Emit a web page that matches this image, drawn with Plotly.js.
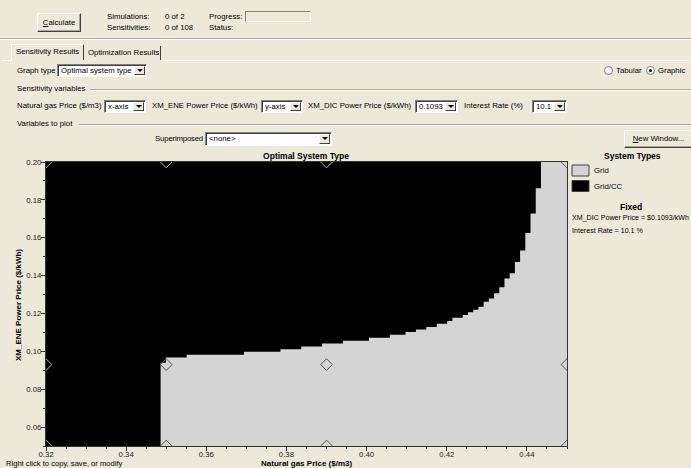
<!DOCTYPE html>
<html>
<head>
<meta charset="utf-8">
<script src="https://cdn.plot.ly/plotly-3.0.1.min.js"></script>
<style>
html,body{margin:0;padding:0;}
body{width:691px;height:468px;overflow:hidden;background:#ece9d8;position:relative;font-family:'Liberation Sans',Arial,sans-serif;font-size:7.8px;color:#000;}
#plot{position:absolute;left:0;top:0;width:691px;height:468px;}
.t{position:absolute;white-space:nowrap;line-height:10px;z-index:5;}
.btn{position:absolute;z-index:5;background:#ece9d8;box-sizing:border-box;border:1px solid;border-color:#fff #404040 #404040 #fff;box-shadow:inset -1px -1px 0 #aca899;text-align:center;white-space:nowrap;}
.dd{position:absolute;z-index:5;height:13px;background:#fff;box-sizing:border-box;border:1px solid;border-color:#808080 #fff #fff #808080;box-shadow:inset 1px 1px 0 #404040;}
.dd span{position:absolute;left:3px;top:1px;line-height:10px;white-space:nowrap;}
.dd .ab{position:absolute;right:1px;top:1px;width:11px;height:9px;background:#ece9d8;box-sizing:border-box;border:1px solid;border-color:#fff #404040 #404040 #fff;}
.dd .ab:after{content:"";position:absolute;left:2px;top:2px;border-left:3px solid transparent;border-right:3px solid transparent;border-top:3px solid #000;}
.hl{position:absolute;z-index:5;height:1px;background:#aca899;border-bottom:1px solid #fff;}
.rad{position:absolute;z-index:5;width:9px;height:9px;border-radius:50%;background:#fff;box-sizing:border-box;border:1px solid #808080;}
</style>
</head>
<body>
<div id="plot"></div>

<!-- top toolbar -->
<div class="btn" style="left:37px;top:13px;width:44px;height:19px;line-height:17px;"><u>C</u>alculate</div>
<div class="t" style="left:107px;top:12px;">Simulations:</div>
<div class="t" style="left:165px;top:12px;">0 of 2</div>
<div class="t" style="left:107px;top:23px;">Sensitivities:</div>
<div class="t" style="left:165px;top:23px;">0 of 108</div>
<div class="t" style="left:209px;top:12px;">Progress:</div>
<div style="position:absolute;z-index:5;left:245px;top:11px;width:66px;height:11px;box-sizing:border-box;border:1px solid;border-color:#808080 #fff #fff #808080;"></div>
<div class="t" style="left:209px;top:23px;">Status:</div>
<div style="position:absolute;z-index:5;left:0;top:38px;width:691px;height:1px;background:#aca899;"></div>
<div style="position:absolute;z-index:5;left:0;top:39px;width:691px;height:1px;background:#fff;"></div>

<!-- tabs -->
<div style="position:absolute;z-index:5;left:11px;top:44px;width:73px;height:16px;box-sizing:border-box;border:1px solid;border-bottom:none;border-color:#fff #404040 #fff #fff;"></div>
<div class="t" style="left:16px;top:47px;">Sensitivity Results</div>
<div style="position:absolute;z-index:5;left:84px;top:46px;width:77px;height:14px;box-sizing:border-box;border-right:1px solid #404040;"></div>
<div class="t" style="left:88px;top:48px;">Optimization Results</div>
<div style="position:absolute;z-index:5;left:161px;top:60px;width:530px;height:1px;background:#fff;"></div>
<div style="position:absolute;z-index:5;left:3px;top:60px;width:8px;height:1px;background:#fff;"></div>

<!-- graph type -->
<div class="t" style="left:17px;top:66px;">Graph type</div>
<div class="dd" style="left:57px;top:64px;width:90px;"><span>Optimal system type</span><div class="ab"></div></div>
<div class="rad" style="left:604px;top:66px;"></div>
<div class="t" style="left:616px;top:66px;">Tabular</div>
<div class="rad" style="left:646px;top:66px;"><div style="position:absolute;left:2px;top:2px;width:3px;height:3px;border-radius:50%;background:#000;"></div></div>
<div class="t" style="left:658px;top:66px;">Graphic</div>

<!-- sensitivity variables -->
<div class="t" style="left:17px;top:84px;">Sensitivity variables</div>
<div class="hl" style="left:90px;top:89px;width:601px;"></div>
<div class="t" style="left:17px;top:101px;">Natural gas Price ($/m3)</div>
<div class="dd" style="left:104px;top:100px;width:42px;"><span>x-axis</span><div class="ab"></div></div>
<div class="t" style="left:152px;top:101px;">XM_ENE Power Price ($/kWh)</div>
<div class="dd" style="left:261px;top:100px;width:42px;"><span>y-axis</span><div class="ab"></div></div>
<div class="t" style="left:308px;top:101px;">XM_DIC Power Price ($/kWh)</div>
<div class="dd" style="left:415px;top:100px;width:43px;"><span>0.1093</span><div class="ab"></div></div>
<div class="t" style="left:464px;top:101px;">Interest Rate (%)</div>
<div class="dd" style="left:532px;top:100px;width:35px;"><span>10.1</span><div class="ab"></div></div>

<!-- variables to plot -->
<div class="t" style="left:17px;top:119px;">Variables to plot</div>
<div class="hl" style="left:79px;top:124px;width:612px;"></div>
<div class="t" style="right:488px;top:134px;text-align:right;letter-spacing:-0.2px;">Superimposed</div>
<div class="dd" style="left:205px;top:132px;width:127px;height:14px;"><span>&lt;none&gt;</span><div class="ab" style="height:10px;"></div></div>
<div class="btn" style="left:624px;top:130px;width:69px;height:18px;line-height:16px;"><u>N</u>ew Window...</div>

<script>
// Sensitivity axes
var xTickVals = [0.32, 0.34, 0.36, 0.38, 0.40, 0.42, 0.44];
var xTickText = ['0.32', '0.34', '0.36', '0.38', '0.40', '0.42', '0.44'];
var yTickVals = [0.06, 0.08, 0.10, 0.12, 0.14, 0.16, 0.18, 0.20];
var yTickText = ['0.06', '0.08', '0.10', '0.12', '0.14', '0.16', '0.18', '0.20'];

// Boundary of the "Grid" region (natural gas price -> XM_ENE price above which Grid/CC is optimal)
var boundaryX = [0.3486, 0.3499, 0.3551, 0.3694, 0.3785, 0.3837, 0.3889, 0.3941, 0.4006, 0.4058,
                 0.4097, 0.4123, 0.4149, 0.4175, 0.4201, 0.4214, 0.4240, 0.4253, 0.4266, 0.4279,
                 0.4292, 0.4305, 0.4318, 0.4331, 0.4344, 0.4357, 0.4370, 0.4383, 0.4396, 0.4409,
                 0.4422, 0.4435, 0.45];
var boundaryY = [0.0940, 0.0967, 0.0982, 0.0998, 0.1011, 0.1025, 0.1041, 0.1056, 0.1072, 0.1087,
                 0.1102, 0.1115, 0.1129, 0.1146, 0.1160, 0.1178, 0.1192, 0.1206, 0.1220, 0.1236,
                 0.1262, 0.1279, 0.1307, 0.1339, 0.1385, 0.1412, 0.1472, 0.1532, 0.1625, 0.1728,
                 0.1862, 0.20, 0.20];

// Sensitivity cases (diamonds) and the optimal type at each
var caseX = [0.32, 0.35, 0.39, 0.45, 0.32, 0.35, 0.39, 0.45, 0.32, 0.35, 0.39, 0.45];
var caseY = [0.20, 0.20, 0.20, 0.20, 0.093, 0.093, 0.093, 0.093, 0.05, 0.05, 0.05, 0.05];
var caseType = ['Grid/CC', 'Grid/CC', 'Grid/CC', 'Grid', 'Grid/CC', 'Grid', 'Grid', 'Grid', 'Grid/CC', 'Grid', 'Grid', 'Grid'];

var systemTypes = ['Grid', 'Grid/CC'];
var systemColors = ['#d4d4d4', '#000000'];
var diamondColors = ['#555555', '#b0b0b0'];

var fixedLines = ['XM_DIC Power Price = $0.1093/kWh', 'Interest Rate = 10.1 %'];

var PL = 46, PR = 567, PT = 162, PB = 446;
function px(x){ return (x - PL) / (PR - PL); }
function py(y){ return (PB - y) / (PB - PT); }

var traces = [{
  type: 'scatter', mode: 'lines', x: boundaryX, y: boundaryY,
  line: {shape: 'hv', width: 0, color: systemColors[0]},
  fill: 'tozeroy', fillcolor: systemColors[0], hoverinfo: 'skip'
}];
systemTypes.forEach(function(st, k){
  var xs = [], ys = [];
  for (var i = 0; i < caseX.length; i++) if (caseType[i] === st) { xs.push(caseX[i]); ys.push(caseY[i]); }
  traces.push({type: 'scatter', mode: 'markers', x: xs, y: ys,
    marker: {symbol: 'diamond-open', size: 9, color: diamondColors[k], line: {width: 1, color: diamondColors[k]}},
    hoverinfo: 'skip'});
});

var F = 'Liberation Sans, Arial, sans-serif';
var ann = [
  {text: '<b>XM_ENE Power Price ($/kWh)</b>', textangle: -90, x: px(18), y: py(305), xref: 'paper', yref: 'paper', showarrow: false, xanchor: 'center', yanchor: 'middle', font: {size: 8}},
  {text: '<b>Natural gas Price ($/m3)</b>', x: px(306), y: py(463.5), xref: 'paper', yref: 'paper', showarrow: false, xanchor: 'center', yanchor: 'middle', font: {size: 8}},
  {text: 'Right click to copy, save, or modify', x: px(4), y: py(463), xref: 'paper', yref: 'paper', showarrow: false, xanchor: 'left', yanchor: 'middle', font: {size: 7.6}},
  {text: '<b>System Types</b>', x: px(632), y: py(156), xref: 'paper', yref: 'paper', showarrow: false, xanchor: 'center', yanchor: 'middle', font: {size: 8.5}},
  {text: '<b>Fixed</b>', x: px(631), y: py(207), xref: 'paper', yref: 'paper', showarrow: false, xanchor: 'center', yanchor: 'middle', font: {size: 8.5}}
];
var shapes = [];
systemTypes.forEach(function(st, k){
  var top = 165 + k * 15.5;
  shapes.push({type: 'rect', xref: 'paper', yref: 'paper', x0: px(572), x1: px(589), y0: py(top), y1: py(top + 11),
    fillcolor: systemColors[k], line: {color: '#404040', width: 1}});
  ann.push({text: st, x: px(592), y: py(top + 5.5), xref: 'paper', yref: 'paper', showarrow: false, xanchor: 'left', yanchor: 'middle', font: {size: 7.8}});
});
fixedLines.forEach(function(s, k){
  ann.push({text: s, x: px(570), y: py(218 + k * 12.5), xref: 'paper', yref: 'paper', showarrow: false, xanchor: 'left', yanchor: 'middle', font: {size: 7.1}});
});

var axisCommon = {
  tickmode: 'array', ticks: 'outside', ticklen: 4, tickwidth: 1, tickcolor: '#333',
  showline: true, linecolor: '#333', linewidth: 1, mirror: true, showgrid: false, zeroline: false,
  tickfont: {size: 7.8, color: '#222', family: F}, fixedrange: true
};
var layout = {
  width: 691, height: 468,
  margin: {l: PL, r: 691 - PR, t: PT, b: 468 - PB, pad: 0},
  paper_bgcolor: 'rgba(0,0,0,0)', plot_bgcolor: '#000000',
  showlegend: false,
  font: {family: F, size: 8, color: '#000'},
  title: {text: '<b>Optimal System Type</b>', font: {size: 8.5, family: F}, x: 306 / 691, xref: 'container', xanchor: 'center', y: 1 - 156 / 468, yref: 'container', yanchor: 'middle'},
  xaxis: Object.assign({}, axisCommon, {range: [0.32, 0.45], tickvals: xTickVals, ticktext: xTickText,
    ticklabelstandoff: -3,
    minor: {dtick: 0.005, ticks: 'outside', ticklen: 2, tickcolor: '#333', showgrid: false}}),
  yaxis: Object.assign({}, axisCommon, {range: [0.05, 0.20], tickvals: yTickVals, ticktext: yTickText,
    ticklabelstandoff: -2,
    minor: {dtick: 0.01, ticks: 'outside', ticklen: 2, tickcolor: '#333', showgrid: false}}),
  annotations: ann,
  shapes: shapes
};
Plotly.newPlot('plot', traces, layout, {displayModeBar: false, staticPlot: true});
</script>
</body>
</html>
